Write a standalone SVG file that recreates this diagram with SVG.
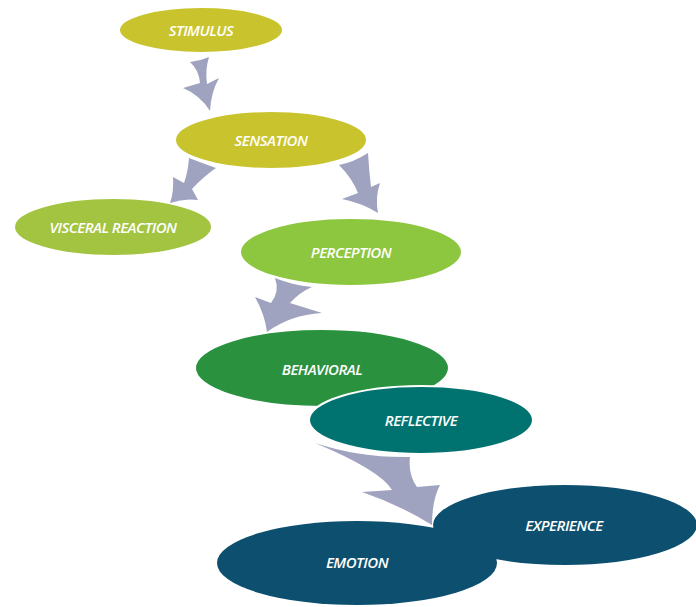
<svg xmlns="http://www.w3.org/2000/svg" width="696" height="607" viewBox="0 0 696 607">
<style>
.n{stroke:#fff;stroke-width:2}
.t{font-family:"Open Sans","Liberation Sans",sans-serif;font-style:italic;font-weight:600;font-size:15px;fill:#fff;text-anchor:middle;dominant-baseline:central;letter-spacing:-0.5px}
.a{fill:#A0A3C0}
</style>
<rect width="696" height="607" fill="#fff"/>
<g id="stimulus"><ellipse class="n" cx="201" cy="30" rx="82" ry="23" fill="#C9C42E"/><text class="t" x="201" y="30">STIMULUS</text></g>
<g id="sensation"><ellipse class="n" cx="271" cy="140" rx="96" ry="29" fill="#C9C42E"/><text class="t" x="271" y="140">SENSATION</text></g>
<g id="visceral"><ellipse class="n" cx="113" cy="227" rx="99" ry="29" fill="#A3C441"/><text class="t" x="113" y="227">VISCERAL REACTION</text></g>
<g id="perception"><ellipse class="n" cx="351" cy="252" rx="111" ry="34" fill="#8DC63F"/><text class="t" x="351" y="252">PERCEPTION</text></g>
<g id="behavioral"><ellipse class="n" cx="322" cy="368" rx="127" ry="39" fill="#2A913E"/><text class="t" x="322" y="369">BEHAVIORAL</text></g>
<g id="reflective"><ellipse class="n" cx="421" cy="420" rx="112" ry="34" fill="#007370"/><text class="t" x="421" y="420">REFLECTIVE</text></g>
<g id="experience"><ellipse class="n" cx="565" cy="525" rx="133" ry="41" fill="#0D4F6E"/><text class="t" x="564" y="525">EXPERIENCE</text></g>
<g id="emotion"><ellipse cx="357" cy="563" rx="140" ry="42" fill="#0D4F6E"/><text class="t" x="357" y="562">EMOTION</text></g>
<g id="connectors">
<path class="a" d="M190,62 Q199,70 200,83 L183,88 Q200,95 210,111 Q211,92 219,78 L207,84 Q205,70 209,57 Q200,61 190,62 Z"/>
<path class="a" d="M189,158 Q188,172 184,183 L173,177 Q174,192 170,203 Q184,198 198,200 L192,189 Q204,176 216,168 Q202,163 189,158 Z"/>
<path class="a" d="M339,165 Q352,178 358,193 L342,199 Q362,203 378,213 Q375,198 380,183 L371,187 Q369,170 368,153 Q354,162 339,165 Z"/>
<path class="a" d="M275,278 Q280,292 271,303 L255,297 Q265,315 267,332 Q290,315 322,313 L290,303 Q300,292 312,287 Q292,285 275,278 Z"/>
<path class="a" d="M315,443 Q380,470 392,490 L362,492 Q400,505 432,525 Q432,500 440,485 L417,487 Q408,475 410,457 Q360,458 315,443 Z"/>
</g>
</svg>
